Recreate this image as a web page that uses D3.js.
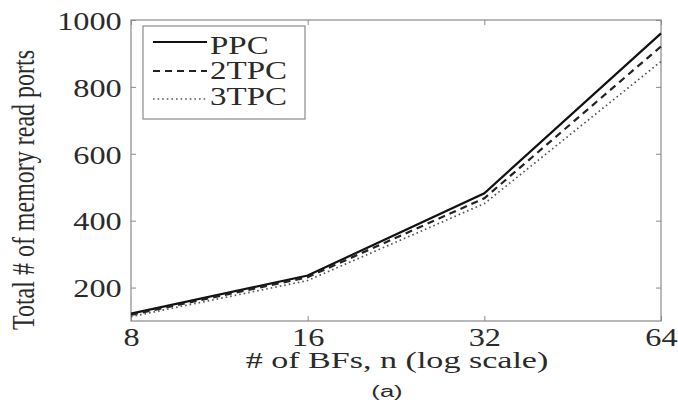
<!DOCTYPE html>
<html><head><meta charset="utf-8">
<script src="https://cdn.jsdelivr.net/npm/d3@7"></script>
<style>html,body{margin:0;padding:0;background:#fff;}svg{display:block;}</style>
</head><body>
<svg id="c" width="678" height="400"></svg>
<script>
const nValues = [8, 16, 32, 64];
const ppc = [122, 236, 482, 960];
const tpc2 = [118, 231, 467, 921];
const tpc3 = [113, 221, 451, 876];
const seriesNames = ["PPC", "2TPC", "3TPC"];
const xTicks = [8, 16, 32, 64];
const yTicks = [200, 400, 600, 800, 1000];

const svg = d3.select("#c");
const L = 131, R = 661, T = 20, B = 321;
const x = d3.scaleLog().base(2).domain([8, 64]).range([L, R]);
const y = d3.scaleLinear().domain([100, 1000]).range([B, T]);
const font = "'Liberation Serif','Times New Roman',serif";
const sx = 1.32;

// frame
svg.append("rect").attr("x", L).attr("y", T).attr("width", R - L).attr("height", B - T)
  .attr("fill", "none").attr("stroke", "#8a8a8a").attr("stroke-width", 1.2);

function styleAxis(g, showText) {
  g.select(".domain").remove();
  g.selectAll("line").attr("stroke", "#8a8a8a");
  if (!showText) g.selectAll("text").remove();
  else g.selectAll("text").attr("font-family", font).attr("font-size", 24.5).attr("fill", "#2a2a2a");
}

const gb = svg.append("g").attr("transform", `translate(0,${B})`)
  .call(d3.axisBottom(x).tickValues(xTicks).tickFormat(d3.format("d")).tickSize(-5).tickSizeOuter(0).tickPadding(8));
styleAxis(gb, true);
gb.selectAll("text").attr("dy", "0.7em").attr("transform", `scale(${sx},1)`);

const gt = svg.append("g").attr("transform", `translate(0,${T})`)
  .call(d3.axisTop(x).tickValues(xTicks).tickSize(-5).tickSizeOuter(0));
styleAxis(gt, false);

const gl = svg.append("g").attr("transform", `translate(${L},0)`)
  .call(d3.axisLeft(y).tickValues(yTicks).tickFormat(d3.format("d")).tickSize(-5).tickSizeOuter(0).tickPadding(7));
styleAxis(gl, true);
gl.selectAll("text").attr("dy", "0.38em").attr("transform", `scale(${sx},1)`);

const gr = svg.append("g").attr("transform", `translate(${R},0)`)
  .call(d3.axisRight(y).tickValues(yTicks).tickSize(-5).tickSizeOuter(0));
styleAxis(gr, false);

// lines
const series = [
  {name: seriesNames[0], vals: ppc, dash: null, color: "#111", w: 2.2},
  {name: seriesNames[1], vals: tpc2, dash: "7,5", color: "#222", w: 2.2},
  {name: seriesNames[2], vals: tpc3, dash: "1.6,3", color: "#555", w: 1.7}
];
const line = d3.line().x((d, i) => x(nValues[i])).y(d => y(d));
series.forEach(s => {
  svg.append("path").datum(s.vals).attr("d", line).attr("fill", "none")
    .attr("stroke", s.color).attr("stroke-width", s.w)
    .attr("stroke-dasharray", s.dash);
});

// legend
svg.append("rect").attr("x", 143).attr("y", 26).attr("width", 162).attr("height", 93)
  .attr("fill", "#fff").attr("stroke", "#8a8a8a").attr("stroke-width", 1.2);
const lineYs = [42, 71, 99];
const baseYs = [54, 79, 105];
series.forEach((s, i) => {
  svg.append("line").attr("x1", 153).attr("x2", 207).attr("y1", lineYs[i]).attr("y2", lineYs[i])
    .attr("stroke", s.color).attr("stroke-width", s.w).attr("stroke-dasharray", s.dash);
  svg.append("text").attr("transform", `translate(210,${baseYs[i]}) scale(${sx},1)`)
    .attr("font-family", font).attr("font-size", 25).attr("fill", "#2a2a2a").text(s.name);
});

// axis labels
svg.append("text").attr("transform", `translate(397,368) scale(1.45,1)`)
  .attr("text-anchor", "middle").attr("font-family", font).attr("font-size", 23.5)
  .attr("fill", "#2a2a2a").text("# of BFs, n (log scale)");
svg.append("text").attr("transform", `translate(34,190) scale(${sx},1) rotate(-90)`)
  .attr("text-anchor", "middle").attr("font-family", font).attr("font-size", 24)
  .attr("fill", "#2a2a2a").text("Total # of memory read ports");
svg.append("text").attr("transform", `translate(387,397) scale(1.6,1)`)
  .attr("text-anchor", "middle").attr("font-family", "'Liberation Sans',Arial,sans-serif").attr("font-size", 16)
  .attr("fill", "#2a2a2a").text("(a)");
</script>
</body></html>
